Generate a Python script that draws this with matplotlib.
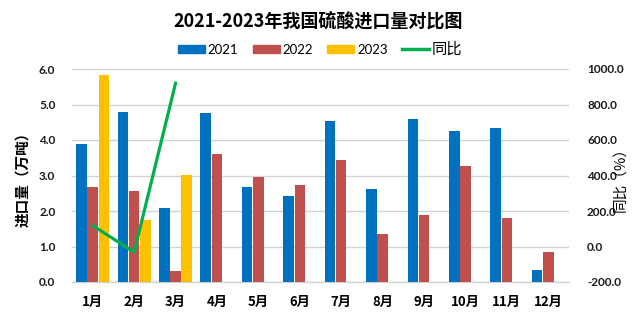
import matplotlib
matplotlib.use("Agg")
import matplotlib.pyplot as plt
import numpy as np
from matplotlib.lines import Line2D
from matplotlib.patches import Patch

months = ["1月", "2月", "3月", "4月", "5月", "6月", "7月", "8月", "9月", "10月", "11月", "12月"]
v2021 = [3.89, 4.80, 2.09, 4.77, 2.68, 2.43, 4.54, 2.63, 4.60, 4.26, 4.35, 0.35]
v2022 = [2.68, 2.57, 0.30, 3.61, 2.95, 2.74, 3.44, 1.36, 1.90, 3.28, 1.81, 0.85]
v2023 = [5.84, 1.75, 3.02]
yoy = [118.0, -32.0, 920.0]
left_ticks = [0.0, 1.0, 2.0, 3.0, 4.0, 5.0, 6.0]
right_ticks = [-200.0, 0.0, 200.0, 400.0, 600.0, 800.0, 1000.0]

FAM = ['Lato', 'Noto Sans CJK SC', 'DejaVu Sans']
CJK = ['Noto Sans CJK SC', 'DejaVu Sans']
plt.rcParams['font.family'] = FAM

c21, c22, c23, cl = '#0070C0', '#C0504D', '#FFC000', '#00B050'

fig = plt.figure(figsize=(6.34, 3.24), dpi=100)
ax = fig.add_axes([72/634, 42/324, (569-72)/634, (282-69)/324])
x = np.arange(len(months))
w = 0.255
off = 0.27
ax.bar(x - off, v2021, w, color=c21, zorder=3)
ax.bar(x, v2022, w, color=c22, zorder=3)
ax.bar(np.arange(len(v2023)) + off, v2023, w, color=c23, zorder=3)
ax.set_xlim(-0.5, len(months) - 0.5)
ax.set_ylim(0, 6)
ax.set_yticks(left_ticks)
ax.set_yticklabels([f"{t:.1f}" for t in left_ticks], fontweight='bold', fontsize=8.5, color='#1a1a1a')
ax.set_xticks(x)
ax.set_xticklabels(months, fontweight='bold', fontsize=9.5, family=CJK)
ax.tick_params(axis='y', length=0, pad=12)
ax.tick_params(axis='x', length=0, pad=9)
ax.yaxis.grid(True, color='#D0D4D4', linewidth=1.0, zorder=0)
ax.set_axisbelow(True)
for s in ['top', 'right', 'left']:
    ax.spines[s].set_visible(False)
ax.spines['bottom'].set_color('#D0D4D4')
ax.spines['bottom'].set_linewidth(1.0)
ax.set_ylabel("进口量（万吨）", family=CJK, fontsize=10.5, fontweight='bold')
ax.yaxis.set_label_coords(-0.085, 0.5)

ax2 = ax.twinx()
ax2.plot(np.arange(len(yoy)), yoy, color=cl, linewidth=2.3, zorder=5)
ax2.set_ylim(-200, 1000)
ax2.set_yticks(right_ticks)
ax2.set_yticklabels([f"{t:.1f}" for t in right_ticks], fontweight='bold', fontsize=8.5, color='#1a1a1a')
ax2.tick_params(axis='y', length=0, pad=13)
for s in ['top', 'right', 'left', 'bottom']:
    ax2.spines[s].set_visible(False)
ax2.set_ylabel("同比（%）", family=CJK, fontsize=10.5, rotation=90)
ax2.yaxis.set_label_coords(1.09, 0.5)

fig.text(318/634, 1 - 22/324, "2021-2023年我国硫酸进口量对比图", ha='center', va='center',
         fontsize=13, fontweight='bold', family=CJK)

handles = [Patch(color=c21, label='2021'), Patch(color=c22, label='2022'),
           Patch(color=c23, label='2023'), Line2D([0], [0], color=cl, lw=2.5, label='同比')]
leg = fig.legend(handles=handles, loc='center', bbox_to_anchor=(320/634, 1 - 49/324), ncol=4,
                 frameon=False, prop={'family': FAM, 'size': 9.5}, handlelength=2.05, handleheight=0.57,
                 columnspacing=1.1, handletextpad=0.2)
t = leg.get_texts()[3]
t.set_fontsize(11)
t.set_fontfamily(CJK)

fig.savefig("out.png", dpi=100)
